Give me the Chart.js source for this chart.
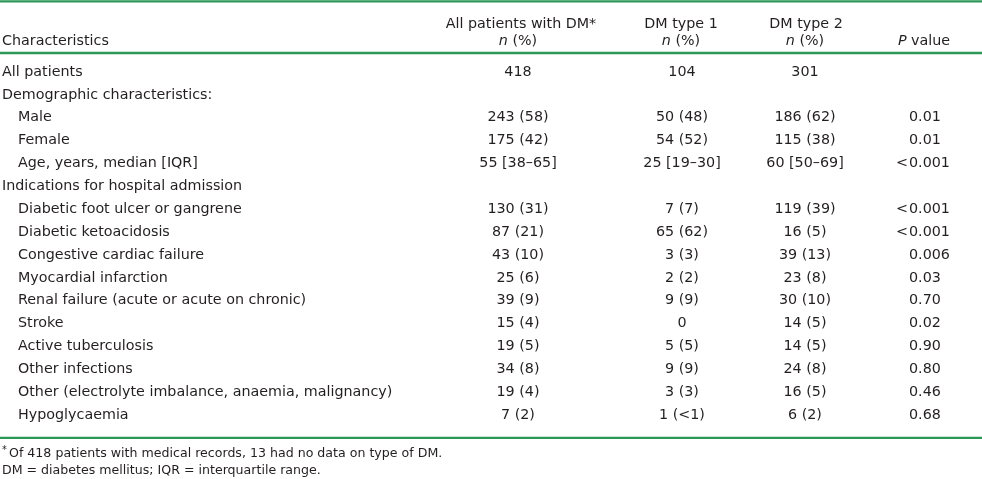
<!DOCTYPE html>
<html>
<head>
<meta charset="utf-8">
<script src="https://cdn.jsdelivr.net/npm/chart.js@4/dist/chart.umd.min.js"></script>
<style>
  html, body { margin: 0; padding: 0; background: #fff; }
  #wrap { width: 982px; height: 479px; position: relative; }
</style>
</head>
<body>
<div id="wrap"><canvas id="c" width="982" height="479"></canvas></div>
<script>
// ---- table data ----
const rowLabels = [
  'All patients',
  'Demographic characteristics:',
  'Male',
  'Female',
  'Age, years, median [IQR]',
  'Indications for hospital admission',
  'Diabetic foot ulcer or gangrene',
  'Diabetic ketoacidosis',
  'Congestive cardiac failure',
  'Myocardial infarction',
  'Renal failure (acute or acute on chronic)',
  'Stroke',
  'Active tuberculosis',
  'Other infections',
  'Other (electrolyte imbalance, anaemia, malignancy)',
  'Hypoglycaemia'
];
const rowIndent = [0, 0, 1, 1, 1, 0, 1, 1, 1, 1, 1, 1, 1, 1, 1, 1];
const allWithDM = ['418', '', '243 (58)', '175 (42)', '55 [38–65]', '', '130 (31)', '87 (21)', '43 (10)', '25 (6)', '39 (9)', '15 (4)', '19 (5)', '34 (8)', '19 (4)', '7 (2)'];
const dmType1 = ['104', '', '50 (48)', '54 (52)', '25 [19–30]', '', '7 (7)', '65 (62)', '3 (3)', '2 (2)', '9 (9)', '0', '5 (5)', '9 (9)', '3 (3)', '1 (<1)'];
const dmType2 = ['301', '', '186 (62)', '115 (38)', '60 [50–69]', '', '119 (39)', '16 (5)', '39 (13)', '23 (8)', '30 (10)', '14 (5)', '14 (5)', '24 (8)', '16 (5)', '6 (2)'];
const pValues = ['', '', '0.01', '0.01', '<0.001', '', '<0.001', '<0.001', '0.006', '0.03', '0.70', '0.02', '0.90', '0.80', '0.46', '0.68'];
const headerTop = ['', 'All patients with DM*', 'DM type 1', 'DM type 2', ''];
const footnotes = ['Of 418 patients with medical records, 13 had no data on type of DM.', 'DM = diabetes mellitus; IQR = interquartile range.'];

// ---- layout / style (not data) ----
const FONT = '"DejaVu Sans", "Open Sans", sans-serif';
const TEXT = '#231f20';
const GREEN = '#2c9858';
const colX = { label: 2, indent: 18, all: 518, dm1: 682, dm2: 805, pAnchor: 909 };

const tablePlugin = {
  id: 'tablePlugin',
  afterDraw(chart) {
    const ctx = chart.ctx;
    const x = chart.scales.x, y = chart.scales.y;
    const area = chart.chartArea;
    const X = v => x.getPixelForValue(v);
    const size = 14.3;
    const reg = size + 'px ' + FONT;
    const ita = 'italic ' + size + 'px ' + FONT;
    ctx.save();
    ctx.fillStyle = TEXT;
    ctx.textBaseline = 'middle';

    // rules
    ctx.strokeStyle = GREEN;
    ctx.lineWidth = 2.3;
    const rule = yy => { ctx.beginPath(); ctx.moveTo(X(0), yy); ctx.lineTo(X(982), yy); ctx.stroke(); };
    rule(area.top - 59.3);
    rule(area.top - 7.6);
    rule(area.bottom + 11.3);

    // header
    const h1 = area.top - 36, h2 = area.top - 19.5;
    ctx.font = reg;
    ctx.textAlign = 'left';
    ctx.fillText('Characteristics', X(colX.label), h2);
    ctx.textAlign = 'center';
    ctx.fillText(headerTop[1], X(521), h1);
    ctx.fillText(headerTop[2], X(681), h1);
    ctx.fillText(headerTop[3], X(806), h1);
    const nPct = (cx) => {
      ctx.font = ita; const w1 = ctx.measureText('n').width;
      ctx.font = reg; const w2 = ctx.measureText(' (%)').width;
      const s = X(cx) - (w1 + w2) / 2;
      ctx.textAlign = 'left';
      ctx.font = ita; ctx.fillText('n', s, h2);
      ctx.font = reg; ctx.fillText(' (%)', s + w1, h2);
    };
    nPct(518); nPct(681); nPct(805);
    {
      ctx.font = ita; const w1 = ctx.measureText('P').width;
      ctx.font = reg; const w2 = ctx.measureText(' value').width;
      const s = X(924) - (w1 + w2) / 2;
      ctx.textAlign = 'left';
      ctx.font = ita; ctx.fillText('P', s, h2);
      ctx.font = reg; ctx.fillText(' value', s + w1, h2);
    }

    // body
    ctx.font = reg;
    rowLabels.forEach((lab, i) => {
      const yy = y.getPixelForValue(i);
      ctx.textAlign = 'left';
      ctx.fillText(lab, X(rowIndent[i] ? colX.indent : colX.label), yy);
      ctx.textAlign = 'center';
      if (allWithDM[i]) ctx.fillText(allWithDM[i], X(colX.all), yy);
      if (dmType1[i]) ctx.fillText(dmType1[i], X(colX.dm1), yy);
      if (dmType2[i]) ctx.fillText(dmType2[i], X(colX.dm2), yy);
      const p = pValues[i];
      if (p) {
        if (p[0] === '<') {
          ctx.textAlign = 'right';
          ctx.fillText('<', X(colX.pAnchor) - 1, yy);
          ctx.textAlign = 'left';
          ctx.fillText(p.slice(1), X(colX.pAnchor), yy);
        } else {
          ctx.textAlign = 'left';
          ctx.fillText(p, X(colX.pAnchor), yy);
        }
      }
    });

    // footnotes
    const fs = 12.6;
    ctx.textAlign = 'left';
    ctx.font = (fs - 3) + 'px ' + FONT;
    ctx.fillText('*', X(2), area.bottom + 24);
    ctx.font = fs + 'px ' + FONT;
    ctx.fillText(footnotes[0], X(9), area.bottom + 27);
    ctx.fillText(footnotes[1], X(2), area.bottom + 44);
    ctx.restore();
  }
};

new Chart(document.getElementById('c'), {
  type: 'bar',
  data: {
    labels: rowLabels,
    datasets: [{ label: 'rows', data: rowLabels.map(() => null), backgroundColor: 'rgba(0,0,0,0)' }]
  },
  options: {
    responsive: false,
    animation: false,
    indexAxis: 'y',
    layout: { padding: { top: 60.6, bottom: 52.4, left: 0, right: 0 } },
    plugins: { legend: { display: false }, tooltip: { enabled: false } },
    scales: {
      x: { type: 'linear', min: 0, max: 982, display: false },
      y: { type: 'category', offset: true, display: false }
    }
  },
  plugins: [tablePlugin]
});
</script>
</body>
</html>
